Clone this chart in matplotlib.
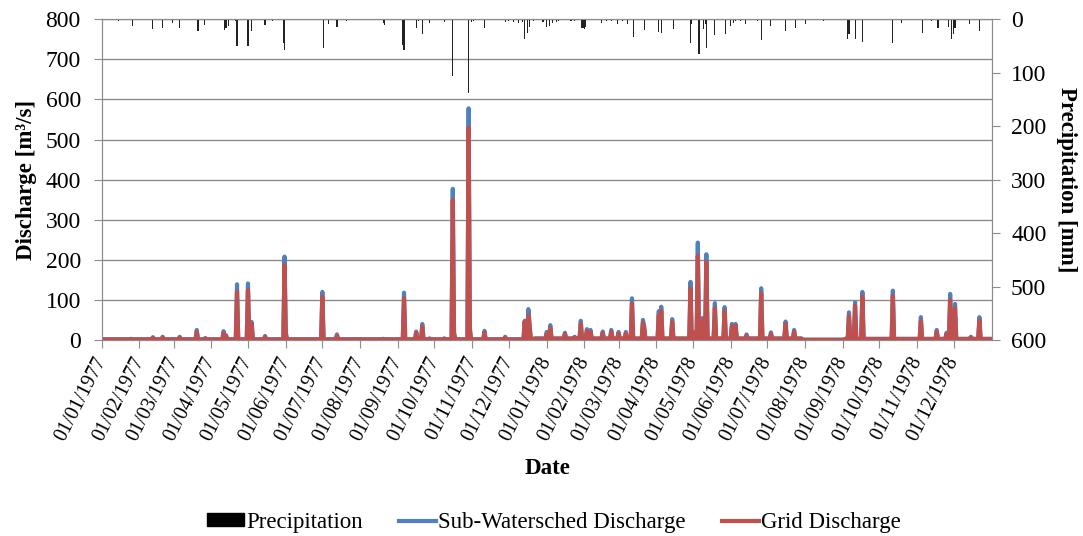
import numpy as np
import pandas as pd
import matplotlib
matplotlib.use('Agg')
from matplotlib import pyplot as plt
import matplotlib.dates as mdates
from matplotlib.patches import Patch
from matplotlib.lines import Line2D

plt.rcParams['font.family'] = ['Liberation Serif', 'DejaVu Serif']

start = pd.Timestamp('1977-01-01')
n_days = 730
dates = pd.date_range(start, periods=n_days, freq='D')

# discharge events: day index counted from 01/01/1977, values in m3/s
peak_days = [24, 42, 50, 64, 78, 85, 100, 102, 111, 120, 123, 134, 150, 151, 181, 193,
             231, 248, 258, 263, 269, 281, 288, 289, 301, 302, 314, 331, 347, 350, 351,
             365, 366, 368, 380, 388, 393, 398, 401, 411, 418, 424, 430, 435, 444, 445,
             457, 459, 468, 483, 486, 489, 493, 496, 503, 511, 517, 520, 529, 541, 549,
             561, 568, 613, 618, 624, 649, 672, 685, 693, 696, 700, 713, 720]
sub_peaks = [3, 7, 8, 8, 25, 5, 22, 12, 139, 141, 45, 10, 208, 20, 120, 14,
             3, 118, 21, 40, 4, 4, 377, 20, 578, 30, 23, 8, 48, 77, 40,
             20, 15, 37, 18, 8, 48, 27, 25, 21, 25, 20, 20, 104, 50, 35,
             72, 83, 52, 145, 20, 243, 55, 214, 92, 82, 40, 40, 14, 129, 19,
             46, 25, 69, 94, 120, 123, 57, 25, 18, 115, 90, 8, 57]
grid_peaks = [2, 5, 6, 6, 20, 3, 17, 10, 120, 125, 40, 8, 187, 15, 108, 10,
              2, 104, 18, 33, 3, 3, 350, 15, 530, 25, 18, 6, 45, 62, 35,
              15, 12, 30, 15, 6, 40, 22, 20, 17, 20, 16, 16, 91, 43, 30,
              62, 73, 45, 129, 16, 210, 50, 195, 80, 72, 35, 35, 10, 116, 15,
              40, 20, 60, 85, 108, 110, 48, 20, 14, 100, 80, 6, 48]

# low flow between events
base_start = [0, 355, 575, 610]
base_sub = [2, 4, 1, 3]
base_grid = [1, 3, 0, 2]

# daily precipitation (mm)
rain_days = [14, 25, 32, 42, 50, 58, 64, 79, 84, 101, 102, 104, 107, 110, 111, 116, 120,
             123, 134, 140, 149, 150, 162, 173, 182, 186, 193, 201, 216, 231, 232, 247,
             248, 258, 260, 263, 269, 281, 288, 301, 303, 305, 314, 331, 334, 338, 342,
             345, 347, 349, 351, 354, 362, 365, 367, 370, 373, 375, 385, 388, 394, 395,
             396, 397, 410, 414, 418, 423, 427, 431, 436, 445, 457, 459, 469, 483, 484,
             490, 494, 495, 496, 503, 512, 516, 518, 520, 524, 528, 534, 538, 541, 549,
             561, 569, 577, 592, 612, 613, 618, 624, 636, 640, 646, 649, 656, 673, 681,
             686, 695, 697, 699, 700, 712, 720, 727]
rain_mm = [4, 12, 2, 18, 17, 6, 17, 21, 10, 20, 17, 12, 2, 3, 50, 2, 50,
           22, 10, 4, 45, 57, 2, 2, 54, 9, 14, 4, 2, 6, 10, 49,
           57, 17, 4, 27, 7, 5, 106, 138, 5, 4, 17, 5, 4, 5, 6,
           5, 37, 25, 14, 4, 5, 14, 12, 6, 5, 3, 3, 4, 16, 17,
           18, 14, 6, 3, 4, 8, 3, 9, 33, 20, 24, 26, 19, 45, 9,
           64, 18, 9, 54, 29, 27, 12, 6, 3, 4, 8, 2, 3, 39, 12,
           22, 17, 8, 4, 37, 27, 37, 43, 2, 2, 2, 45, 6, 26, 3,
           17, 14, 37, 28, 17, 9, 22, 2]

sub = np.zeros(n_days)
grid = np.zeros(n_days)
for d, bs, bg in zip(base_start, base_sub, base_grid):
    sub[d:] = bs
    grid[d:] = bg
sub[peak_days] = sub_peaks
grid[peak_days] = grid_peaks

gray = '#8c8c8c'
fs = 16.5
blue = '#4F81BD'
red = '#C0504D'

fig = plt.figure(figsize=(10.83, 5.36), dpi=100)
ax = fig.add_axes([0.0939, 0.3657, 0.8217, 0.5983])
ax.plot(dates, sub, color=blue, lw=3, zorder=3, solid_joinstyle='round')
ax.plot(dates, grid, color=red, lw=3, zorder=4, solid_joinstyle='round')
ax.set_ylim(0, 800)
ax.set_yticks(np.arange(0, 801, 100))
ax.set_xlim(start, start + pd.Timedelta(days=730))
ax.set_xticks(pd.date_range('1977-01-01', '1978-12-01', freq='MS'))
ax.xaxis.set_major_formatter(mdates.DateFormatter('%d/%m/%Y'))
ax.grid(axis='y', color=gray, lw=1)
ax.set_axisbelow(True)
for sp in ax.spines.values():
    sp.set_color(gray)
ax.tick_params(axis='y', direction='out', length=6, color=gray, pad=9, labelsize=17)
ax.tick_params(axis='x', direction='out', length=6, color=gray, pad=7, labelsize=14.5)
for lbl in ax.get_xticklabels():
    lbl.set_rotation(63)
    lbl.set_ha('right')
    lbl.set_va('center')
    lbl.set_rotation_mode('anchor')
ax.set_ylabel('Discharge [m³/s]', fontsize=fs, fontweight='bold', va='center')
ax.yaxis.set_label_coords(-0.085, 0.5)

ax2 = ax.twinx()
ax2.bar(dates[rain_days], rain_mm, width=0.9, color='#222222', zorder=2)
ax2.set_ylim(600, 0)
ax2.set_yticks(np.arange(0, 601, 100))
for sp in ax2.spines.values():
    sp.set_color(gray)
ax2.tick_params(axis='y', direction='out', length=6, color=gray, pad=8, labelsize=17)
ax2.set_ylabel('Precipitation [mm]', fontsize=fs, fontweight='bold', rotation=270, va='center')
ax2.yaxis.set_label_coords(1.0846, 0.5)

fig.text(547 / 1083, 1 - 468 / 536, 'Date', ha='center', va='center',
         fontsize=fs, fontweight='bold')

handles = [Patch(color='black'),
           Line2D([], [], color=blue, lw=3),
           Line2D([], [], color=red, lw=3)]
labels = ['Precipitation', 'Sub-Watersched Discharge', 'Grid Discharge']
fig.legend(handles, labels, loc='center', bbox_to_anchor=(0.5115, 0.025), ncol=3,
           frameon=False, fontsize=fs, handlelength=1.6, handleheight=0.5,
           handletextpad=0.1, columnspacing=1.6)

fig.savefig('out.png', dpi=100)
